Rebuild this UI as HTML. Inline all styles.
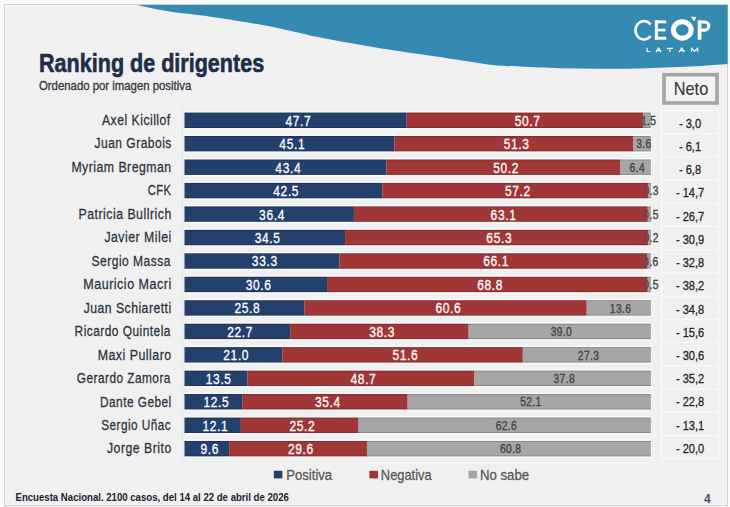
<!DOCTYPE html><html><head><meta charset="utf-8"><style>html,body{margin:0;padding:0;width:730px;height:507px;overflow:hidden;background:#fff}svg{display:block}</style></head><body><svg width="730" height="507" viewBox="0 0 730 507" font-family='"Liberation Sans", sans-serif'><rect x="0" y="0" width="730" height="507" fill="#fafafa"/>
<rect x="4.5" y="4.5" width="723" height="501" fill="#f0f0f0"/>
<rect x="5.5" y="5.5" width="721" height="499" fill="none" stroke="#f8f8f8" stroke-width="1"/>
<path d="M136.5,5 C142.25,6.13 160.42,10.10 171,11.8 C181.58,13.50 188.50,13.63 200,15.2 C211.50,16.77 226.67,18.98 240,21.2 C253.33,23.42 266.67,25.77 280,28.5 C293.33,31.23 306.67,34.90 320,37.6 C333.33,40.30 346.67,42.42 360,44.7 C373.33,46.98 386.67,49.23 400,51.3 C413.33,53.37 425.00,54.87 440,57.1 C455.00,59.33 476.67,63.12 490,64.7 C503.33,66.28 508.33,66.00 520,66.6 C531.67,67.20 546.67,67.95 560,68.3 C573.33,68.65 586.67,68.67 600,68.7 C613.33,68.73 625.00,68.85 640,68.5 C655.00,68.15 675.42,67.35 690,66.6 C704.58,65.85 721.25,64.43 727.5,64 L727.5,5 Z" fill="#348ab0"/>
<rect x="4.5" y="4.5" width="723" height="501" fill="none" stroke="rgba(0,0,0,0.15)" stroke-width="1"/>
<text transform="translate(39.04,72.00) scale(0.8625,1)" font-size="25" font-weight="bold" fill="#1f2d4a" stroke="#1f2d4a" stroke-width="0.6" >Ranking de dirigentes</text>
<text transform="translate(39.00,89.70) scale(0.9098,1)" font-size="12.5" font-weight="normal" fill="#333840" stroke="#333840" stroke-width="0.3" >Ordenado por imagen positiva</text>
<line x1="182.5" y1="108.52" x2="182.5" y2="460.42" stroke="#e3e3e3" stroke-width="1"/>
<line x1="180.3" y1="108.52" x2="182.5" y2="108.52" stroke="#e3e3e3" stroke-width="1"/>
<line x1="180.3" y1="131.98" x2="182.5" y2="131.98" stroke="#e3e3e3" stroke-width="1"/>
<line x1="180.3" y1="155.44" x2="182.5" y2="155.44" stroke="#e3e3e3" stroke-width="1"/>
<line x1="180.3" y1="178.90" x2="182.5" y2="178.90" stroke="#e3e3e3" stroke-width="1"/>
<line x1="180.3" y1="202.36" x2="182.5" y2="202.36" stroke="#e3e3e3" stroke-width="1"/>
<line x1="180.3" y1="225.82" x2="182.5" y2="225.82" stroke="#e3e3e3" stroke-width="1"/>
<line x1="180.3" y1="249.28" x2="182.5" y2="249.28" stroke="#e3e3e3" stroke-width="1"/>
<line x1="180.3" y1="272.74" x2="182.5" y2="272.74" stroke="#e3e3e3" stroke-width="1"/>
<line x1="180.3" y1="296.20" x2="182.5" y2="296.20" stroke="#e3e3e3" stroke-width="1"/>
<line x1="180.3" y1="319.66" x2="182.5" y2="319.66" stroke="#e3e3e3" stroke-width="1"/>
<line x1="180.3" y1="343.12" x2="182.5" y2="343.12" stroke="#e3e3e3" stroke-width="1"/>
<line x1="180.3" y1="366.58" x2="182.5" y2="366.58" stroke="#e3e3e3" stroke-width="1"/>
<line x1="180.3" y1="390.04" x2="182.5" y2="390.04" stroke="#e3e3e3" stroke-width="1"/>
<line x1="180.3" y1="413.50" x2="182.5" y2="413.50" stroke="#e3e3e3" stroke-width="1"/>
<line x1="180.3" y1="436.96" x2="182.5" y2="436.96" stroke="#e3e3e3" stroke-width="1"/>
<line x1="180.3" y1="460.42" x2="182.5" y2="460.42" stroke="#e3e3e3" stroke-width="1"/>
<text transform="translate(102.00,125.00) scale(0.8144,1)" font-size="15" font-weight="normal" fill="#2e3440" stroke="#2e3440" stroke-width="0.3"  letter-spacing="0.6">Axel Kicillof</text>
<rect x="642.91" y="112.50" width="7.99" height="15.5" fill="#a6a6a6"/>
<text transform="translate(648.70,124.90) scale(0.7700,1)" text-anchor="middle" font-size="13.3" fill="#4a4a4a" stroke="#4a4a4a" stroke-width="0.3"  letter-spacing="0.5">1.5</text>
<rect x="184.50" y="112.50" width="222.22" height="15.5" fill="#24406c"/>
<rect x="406.72" y="112.50" width="236.19" height="15.5" fill="#a03636"/>
<rect x="183.50" y="110.90" width="468.40" height="1.6" fill="#ffffff" opacity="0.6"/>
<rect x="183.50" y="128.00" width="468.40" height="1.6" fill="#ffffff" opacity="0.6"/>
<rect x="184.50" y="112.50" width="466.40" height="1" fill="#000" opacity="0.18"/>
<rect x="184.50" y="127.00" width="466.40" height="1" fill="#000" opacity="0.18"/>
<text transform="translate(648.70,124.90) scale(0.7700,1)" text-anchor="middle" font-size="13.3" fill="#4a4a4a" stroke="#4a4a4a" stroke-width="0.3" opacity="0.4" letter-spacing="0.5">1.5</text>
<text transform="translate(298.42,125.70) scale(0.7750,1)" text-anchor="middle" font-size="15.5" fill="#fff" stroke="#fff" stroke-width="0.3"  letter-spacing="0.8">47.7</text>
<text transform="translate(527.63,125.70) scale(0.7750,1)" text-anchor="middle" font-size="15.5" fill="#fff" stroke="#fff" stroke-width="0.3"  letter-spacing="0.8">50.7</text>
<text transform="translate(94.50,148.46) scale(0.8026,1)" font-size="15" font-weight="normal" fill="#2e3440" stroke="#2e3440" stroke-width="0.3"  letter-spacing="0.6">Juan Grabois</text>
<rect x="633.15" y="135.96" width="17.75" height="15.5" fill="#a6a6a6"/>
<text transform="translate(643.82,148.36) scale(0.7700,1)" text-anchor="middle" font-size="13.3" fill="#4a4a4a" stroke="#4a4a4a" stroke-width="0.3"  letter-spacing="0.5">3.6</text>
<rect x="184.50" y="135.96" width="209.90" height="15.5" fill="#24406c"/>
<rect x="394.40" y="135.96" width="238.75" height="15.5" fill="#a03636"/>
<rect x="183.50" y="134.36" width="468.40" height="1.6" fill="#ffffff" opacity="0.6"/>
<rect x="183.50" y="151.46" width="468.40" height="1.6" fill="#ffffff" opacity="0.6"/>
<rect x="184.50" y="135.96" width="466.40" height="1" fill="#000" opacity="0.18"/>
<rect x="184.50" y="150.46" width="466.40" height="1" fill="#000" opacity="0.18"/>
<text transform="translate(643.82,148.36) scale(0.7700,1)" text-anchor="middle" font-size="13.3" fill="#4a4a4a" stroke="#4a4a4a" stroke-width="0.3" opacity="0.4" letter-spacing="0.5">3.6</text>
<text transform="translate(292.26,149.16) scale(0.7750,1)" text-anchor="middle" font-size="15.5" fill="#fff" stroke="#fff" stroke-width="0.3"  letter-spacing="0.8">45.1</text>
<text transform="translate(516.58,149.16) scale(0.7750,1)" text-anchor="middle" font-size="15.5" fill="#fff" stroke="#fff" stroke-width="0.3"  letter-spacing="0.8">51.3</text>
<text transform="translate(71.38,171.92) scale(0.8189,1)" font-size="15" font-weight="normal" fill="#2e3440" stroke="#2e3440" stroke-width="0.3"  letter-spacing="0.6">Myriam Bregman</text>
<rect x="620.11" y="159.42" width="30.79" height="15.5" fill="#a6a6a6"/>
<text transform="translate(637.30,171.82) scale(0.7700,1)" text-anchor="middle" font-size="13.3" fill="#4a4a4a" stroke="#4a4a4a" stroke-width="0.3"  letter-spacing="0.5">6.4</text>
<rect x="184.50" y="159.42" width="201.98" height="15.5" fill="#24406c"/>
<rect x="386.48" y="159.42" width="233.63" height="15.5" fill="#a03636"/>
<rect x="183.50" y="157.82" width="468.40" height="1.6" fill="#ffffff" opacity="0.6"/>
<rect x="183.50" y="174.92" width="468.40" height="1.6" fill="#ffffff" opacity="0.6"/>
<rect x="184.50" y="159.42" width="466.40" height="1" fill="#000" opacity="0.18"/>
<rect x="184.50" y="173.92" width="466.40" height="1" fill="#000" opacity="0.18"/>
<text transform="translate(637.30,171.82) scale(0.7700,1)" text-anchor="middle" font-size="13.3" fill="#4a4a4a" stroke="#4a4a4a" stroke-width="0.3" opacity="0.4" letter-spacing="0.5">6.4</text>
<text transform="translate(288.30,172.62) scale(0.7750,1)" text-anchor="middle" font-size="15.5" fill="#fff" stroke="#fff" stroke-width="0.3"  letter-spacing="0.8">43.4</text>
<text transform="translate(506.11,172.62) scale(0.7750,1)" text-anchor="middle" font-size="15.5" fill="#fff" stroke="#fff" stroke-width="0.3"  letter-spacing="0.8">50.2</text>
<text transform="translate(147.80,195.38) scale(0.7437,1)" font-size="15" font-weight="normal" fill="#2e3440" stroke="#2e3440" stroke-width="0.3"  letter-spacing="0.6">CFK</text>
<rect x="647.90" y="182.88" width="3.00" height="15.5" fill="#a6a6a6"/>
<text transform="translate(651.19,195.28) scale(0.7700,1)" text-anchor="middle" font-size="13.3" fill="#4a4a4a" stroke="#4a4a4a" stroke-width="0.3"  letter-spacing="0.5">0.3</text>
<rect x="184.50" y="182.88" width="197.79" height="15.5" fill="#24406c"/>
<rect x="382.29" y="182.88" width="265.61" height="15.5" fill="#a03636"/>
<rect x="183.50" y="181.28" width="468.40" height="1.6" fill="#ffffff" opacity="0.6"/>
<rect x="183.50" y="198.38" width="468.40" height="1.6" fill="#ffffff" opacity="0.6"/>
<rect x="184.50" y="182.88" width="466.40" height="1" fill="#000" opacity="0.18"/>
<rect x="184.50" y="197.38" width="466.40" height="1" fill="#000" opacity="0.18"/>
<text transform="translate(651.19,195.28) scale(0.7700,1)" text-anchor="middle" font-size="13.3" fill="#4a4a4a" stroke="#4a4a4a" stroke-width="0.3" opacity="0.4" letter-spacing="0.5">0.3</text>
<text transform="translate(286.21,196.08) scale(0.7750,1)" text-anchor="middle" font-size="15.5" fill="#fff" stroke="#fff" stroke-width="0.3"  letter-spacing="0.8">42.5</text>
<text transform="translate(517.91,196.08) scale(0.7750,1)" text-anchor="middle" font-size="15.5" fill="#fff" stroke="#fff" stroke-width="0.3"  letter-spacing="0.8">57.2</text>
<text transform="translate(78.48,218.84) scale(0.8215,1)" font-size="15" font-weight="normal" fill="#2e3440" stroke="#2e3440" stroke-width="0.3"  letter-spacing="0.6">Patricia Bullrich</text>
<rect x="647.57" y="206.34" width="3.33" height="15.5" fill="#a6a6a6"/>
<text transform="translate(651.03,218.74) scale(0.7700,1)" text-anchor="middle" font-size="13.3" fill="#4a4a4a" stroke="#4a4a4a" stroke-width="0.3"  letter-spacing="0.5">0.5</text>
<rect x="184.50" y="206.34" width="169.41" height="15.5" fill="#24406c"/>
<rect x="353.91" y="206.34" width="293.67" height="15.5" fill="#a03636"/>
<rect x="183.50" y="204.74" width="468.40" height="1.6" fill="#ffffff" opacity="0.6"/>
<rect x="183.50" y="221.84" width="468.40" height="1.6" fill="#ffffff" opacity="0.6"/>
<rect x="184.50" y="206.34" width="466.40" height="1" fill="#000" opacity="0.18"/>
<rect x="184.50" y="220.84" width="466.40" height="1" fill="#000" opacity="0.18"/>
<text transform="translate(651.03,218.74) scale(0.7700,1)" text-anchor="middle" font-size="13.3" fill="#4a4a4a" stroke="#4a4a4a" stroke-width="0.3" opacity="0.4" letter-spacing="0.5">0.5</text>
<text transform="translate(272.01,219.54) scale(0.7750,1)" text-anchor="middle" font-size="15.5" fill="#fff" stroke="#fff" stroke-width="0.3"  letter-spacing="0.8">36.4</text>
<text transform="translate(503.55,219.54) scale(0.7750,1)" text-anchor="middle" font-size="15.5" fill="#fff" stroke="#fff" stroke-width="0.3"  letter-spacing="0.8">63.1</text>
<text transform="translate(104.40,242.30) scale(0.8194,1)" font-size="15" font-weight="normal" fill="#2e3440" stroke="#2e3440" stroke-width="0.3"  letter-spacing="0.6">Javier Milei</text>
<rect x="647.90" y="229.80" width="3.00" height="15.5" fill="#a6a6a6"/>
<text transform="translate(651.19,242.20) scale(0.7700,1)" text-anchor="middle" font-size="13.3" fill="#4a4a4a" stroke="#4a4a4a" stroke-width="0.3"  letter-spacing="0.5">0.2</text>
<rect x="184.50" y="229.80" width="160.56" height="15.5" fill="#24406c"/>
<rect x="345.06" y="229.80" width="302.84" height="15.5" fill="#a03636"/>
<rect x="183.50" y="228.20" width="468.40" height="1.6" fill="#ffffff" opacity="0.6"/>
<rect x="183.50" y="245.30" width="468.40" height="1.6" fill="#ffffff" opacity="0.6"/>
<rect x="184.50" y="229.80" width="466.40" height="1" fill="#000" opacity="0.18"/>
<rect x="184.50" y="244.30" width="466.40" height="1" fill="#000" opacity="0.18"/>
<text transform="translate(651.19,242.20) scale(0.7700,1)" text-anchor="middle" font-size="13.3" fill="#4a4a4a" stroke="#4a4a4a" stroke-width="0.3" opacity="0.4" letter-spacing="0.5">0.2</text>
<text transform="translate(267.59,243.00) scale(0.7750,1)" text-anchor="middle" font-size="15.5" fill="#fff" stroke="#fff" stroke-width="0.3"  letter-spacing="0.8">34.5</text>
<text transform="translate(499.29,243.00) scale(0.7750,1)" text-anchor="middle" font-size="15.5" fill="#fff" stroke="#fff" stroke-width="0.3"  letter-spacing="0.8">65.3</text>
<text transform="translate(91.60,265.76) scale(0.8023,1)" font-size="15" font-weight="normal" fill="#2e3440" stroke="#2e3440" stroke-width="0.3"  letter-spacing="0.6">Sergio Massa</text>
<rect x="647.11" y="253.26" width="3.79" height="15.5" fill="#a6a6a6"/>
<text transform="translate(650.80,265.66) scale(0.7700,1)" text-anchor="middle" font-size="13.3" fill="#4a4a4a" stroke="#4a4a4a" stroke-width="0.3"  letter-spacing="0.5">0.6</text>
<rect x="184.50" y="253.26" width="154.98" height="15.5" fill="#24406c"/>
<rect x="339.48" y="253.26" width="307.63" height="15.5" fill="#a03636"/>
<rect x="183.50" y="251.66" width="468.40" height="1.6" fill="#ffffff" opacity="0.6"/>
<rect x="183.50" y="268.76" width="468.40" height="1.6" fill="#ffffff" opacity="0.6"/>
<rect x="184.50" y="253.26" width="466.40" height="1" fill="#000" opacity="0.18"/>
<rect x="184.50" y="267.76" width="466.40" height="1" fill="#000" opacity="0.18"/>
<text transform="translate(650.80,265.66) scale(0.7700,1)" text-anchor="middle" font-size="13.3" fill="#4a4a4a" stroke="#4a4a4a" stroke-width="0.3" opacity="0.4" letter-spacing="0.5">0.6</text>
<text transform="translate(264.80,266.46) scale(0.7750,1)" text-anchor="middle" font-size="15.5" fill="#fff" stroke="#fff" stroke-width="0.3"  letter-spacing="0.8">33.3</text>
<text transform="translate(496.10,266.46) scale(0.7750,1)" text-anchor="middle" font-size="15.5" fill="#fff" stroke="#fff" stroke-width="0.3"  letter-spacing="0.8">66.1</text>
<text transform="translate(83.26,289.22) scale(0.8357,1)" font-size="15" font-weight="normal" fill="#2e3440" stroke="#2e3440" stroke-width="0.3"  letter-spacing="0.6">Mauricio Macri</text>
<rect x="647.57" y="276.72" width="3.33" height="15.5" fill="#a6a6a6"/>
<text transform="translate(651.03,289.12) scale(0.7700,1)" text-anchor="middle" font-size="13.3" fill="#4a4a4a" stroke="#4a4a4a" stroke-width="0.3"  letter-spacing="0.5">0.5</text>
<rect x="184.50" y="276.72" width="142.55" height="15.5" fill="#24406c"/>
<rect x="327.05" y="276.72" width="320.52" height="15.5" fill="#a03636"/>
<rect x="183.50" y="275.12" width="468.40" height="1.6" fill="#ffffff" opacity="0.6"/>
<rect x="183.50" y="292.22" width="468.40" height="1.6" fill="#ffffff" opacity="0.6"/>
<rect x="184.50" y="276.72" width="466.40" height="1" fill="#000" opacity="0.18"/>
<rect x="184.50" y="291.22" width="466.40" height="1" fill="#000" opacity="0.18"/>
<text transform="translate(651.03,289.12) scale(0.7700,1)" text-anchor="middle" font-size="13.3" fill="#4a4a4a" stroke="#4a4a4a" stroke-width="0.3" opacity="0.4" letter-spacing="0.5">0.5</text>
<text transform="translate(258.59,289.92) scale(0.7750,1)" text-anchor="middle" font-size="15.5" fill="#fff" stroke="#fff" stroke-width="0.3"  letter-spacing="0.8">30.6</text>
<text transform="translate(490.12,289.92) scale(0.7750,1)" text-anchor="middle" font-size="15.5" fill="#fff" stroke="#fff" stroke-width="0.3"  letter-spacing="0.8">68.8</text>
<text transform="translate(83.70,312.68) scale(0.8137,1)" font-size="15" font-weight="normal" fill="#2e3440" stroke="#2e3440" stroke-width="0.3"  letter-spacing="0.6">Juan Schiaretti</text>
<rect x="586.61" y="300.18" width="64.29" height="15.5" fill="#a6a6a6"/>
<text transform="translate(620.55,312.58) scale(0.7700,1)" text-anchor="middle" font-size="13.3" fill="#4a4a4a" stroke="#4a4a4a" stroke-width="0.3"  letter-spacing="0.5">13.6</text>
<rect x="184.50" y="300.18" width="120.07" height="15.5" fill="#24406c"/>
<rect x="304.57" y="300.18" width="282.03" height="15.5" fill="#a03636"/>
<rect x="183.50" y="298.58" width="468.40" height="1.6" fill="#ffffff" opacity="0.6"/>
<rect x="183.50" y="315.68" width="468.40" height="1.6" fill="#ffffff" opacity="0.6"/>
<rect x="184.50" y="300.18" width="466.40" height="1" fill="#000" opacity="0.18"/>
<rect x="184.50" y="314.68" width="466.40" height="1" fill="#000" opacity="0.18"/>
<text transform="translate(620.55,312.58) scale(0.7700,1)" text-anchor="middle" font-size="13.3" fill="#4a4a4a" stroke="#4a4a4a" stroke-width="0.3" opacity="0.4" letter-spacing="0.5">13.6</text>
<text transform="translate(247.35,313.38) scale(0.7750,1)" text-anchor="middle" font-size="15.5" fill="#fff" stroke="#fff" stroke-width="0.3"  letter-spacing="0.8">25.8</text>
<text transform="translate(448.40,313.38) scale(0.7750,1)" text-anchor="middle" font-size="15.5" fill="#fff" stroke="#fff" stroke-width="0.3"  letter-spacing="0.8">60.6</text>
<text transform="translate(74.61,336.14) scale(0.7941,1)" font-size="15" font-weight="normal" fill="#2e3440" stroke="#2e3440" stroke-width="0.3"  letter-spacing="0.6">Ricardo Quintela</text>
<rect x="468.39" y="323.64" width="182.51" height="15.5" fill="#a6a6a6"/>
<text transform="translate(561.44,336.04) scale(0.7700,1)" text-anchor="middle" font-size="13.3" fill="#4a4a4a" stroke="#4a4a4a" stroke-width="0.3"  letter-spacing="0.5">39.0</text>
<rect x="184.50" y="323.64" width="105.65" height="15.5" fill="#24406c"/>
<rect x="290.15" y="323.64" width="178.25" height="15.5" fill="#a03636"/>
<rect x="183.50" y="322.04" width="468.40" height="1.6" fill="#ffffff" opacity="0.6"/>
<rect x="183.50" y="339.14" width="468.40" height="1.6" fill="#ffffff" opacity="0.6"/>
<rect x="184.50" y="323.64" width="466.40" height="1" fill="#000" opacity="0.18"/>
<rect x="184.50" y="338.14" width="466.40" height="1" fill="#000" opacity="0.18"/>
<text transform="translate(561.44,336.04) scale(0.7700,1)" text-anchor="middle" font-size="13.3" fill="#4a4a4a" stroke="#4a4a4a" stroke-width="0.3" opacity="0.4" letter-spacing="0.5">39.0</text>
<text transform="translate(240.13,336.84) scale(0.7750,1)" text-anchor="middle" font-size="15.5" fill="#fff" stroke="#fff" stroke-width="0.3"  letter-spacing="0.8">22.7</text>
<text transform="translate(382.08,336.84) scale(0.7750,1)" text-anchor="middle" font-size="15.5" fill="#fff" stroke="#fff" stroke-width="0.3"  letter-spacing="0.8">38.3</text>
<text transform="translate(97.67,359.60) scale(0.8259,1)" font-size="15" font-weight="normal" fill="#2e3440" stroke="#2e3440" stroke-width="0.3"  letter-spacing="0.6">Maxi Pullaro</text>
<rect x="522.72" y="347.10" width="128.18" height="15.5" fill="#a6a6a6"/>
<text transform="translate(588.60,359.50) scale(0.7700,1)" text-anchor="middle" font-size="13.3" fill="#4a4a4a" stroke="#4a4a4a" stroke-width="0.3"  letter-spacing="0.5">27.3</text>
<rect x="184.50" y="347.10" width="97.83" height="15.5" fill="#24406c"/>
<rect x="282.33" y="347.10" width="240.39" height="15.5" fill="#a03636"/>
<rect x="183.50" y="345.50" width="468.40" height="1.6" fill="#ffffff" opacity="0.6"/>
<rect x="183.50" y="362.60" width="468.40" height="1.6" fill="#ffffff" opacity="0.6"/>
<rect x="184.50" y="347.10" width="466.40" height="1" fill="#000" opacity="0.18"/>
<rect x="184.50" y="361.60" width="466.40" height="1" fill="#000" opacity="0.18"/>
<text transform="translate(588.60,359.50) scale(0.7700,1)" text-anchor="middle" font-size="13.3" fill="#4a4a4a" stroke="#4a4a4a" stroke-width="0.3" opacity="0.4" letter-spacing="0.5">27.3</text>
<text transform="translate(236.23,360.30) scale(0.7750,1)" text-anchor="middle" font-size="15.5" fill="#fff" stroke="#fff" stroke-width="0.3"  letter-spacing="0.8">21.0</text>
<text transform="translate(405.34,360.30) scale(0.7750,1)" text-anchor="middle" font-size="15.5" fill="#fff" stroke="#fff" stroke-width="0.3"  letter-spacing="0.8">51.6</text>
<text transform="translate(76.80,383.06) scale(0.7894,1)" font-size="15" font-weight="normal" fill="#2e3440" stroke="#2e3440" stroke-width="0.3"  letter-spacing="0.6">Gerardo Zamora</text>
<rect x="473.98" y="370.56" width="176.92" height="15.5" fill="#a6a6a6"/>
<text transform="translate(564.23,382.96) scale(0.7700,1)" text-anchor="middle" font-size="13.3" fill="#4a4a4a" stroke="#4a4a4a" stroke-width="0.3"  letter-spacing="0.5">37.8</text>
<rect x="184.50" y="370.56" width="62.83" height="15.5" fill="#24406c"/>
<rect x="247.33" y="370.56" width="226.65" height="15.5" fill="#a03636"/>
<rect x="183.50" y="368.96" width="468.40" height="1.6" fill="#ffffff" opacity="0.6"/>
<rect x="183.50" y="386.06" width="468.40" height="1.6" fill="#ffffff" opacity="0.6"/>
<rect x="184.50" y="370.56" width="466.40" height="1" fill="#000" opacity="0.18"/>
<rect x="184.50" y="385.06" width="466.40" height="1" fill="#000" opacity="0.18"/>
<text transform="translate(564.23,382.96) scale(0.7700,1)" text-anchor="middle" font-size="13.3" fill="#4a4a4a" stroke="#4a4a4a" stroke-width="0.3" opacity="0.4" letter-spacing="0.5">37.8</text>
<text transform="translate(218.72,383.76) scale(0.7750,1)" text-anchor="middle" font-size="15.5" fill="#fff" stroke="#fff" stroke-width="0.3"  letter-spacing="0.8">13.5</text>
<text transform="translate(363.46,383.76) scale(0.7750,1)" text-anchor="middle" font-size="15.5" fill="#fff" stroke="#fff" stroke-width="0.3"  letter-spacing="0.8">48.7</text>
<text transform="translate(100.01,406.52) scale(0.7898,1)" font-size="15" font-weight="normal" fill="#2e3440" stroke="#2e3440" stroke-width="0.3"  letter-spacing="0.6">Dante Gebel</text>
<rect x="407.43" y="394.02" width="243.47" height="15.5" fill="#a6a6a6"/>
<text transform="translate(530.96,406.42) scale(0.7700,1)" text-anchor="middle" font-size="13.3" fill="#4a4a4a" stroke="#4a4a4a" stroke-width="0.3"  letter-spacing="0.5">52.1</text>
<rect x="184.50" y="394.02" width="58.17" height="15.5" fill="#24406c"/>
<rect x="242.68" y="394.02" width="164.75" height="15.5" fill="#a03636"/>
<rect x="183.50" y="392.42" width="468.40" height="1.6" fill="#ffffff" opacity="0.6"/>
<rect x="183.50" y="409.52" width="468.40" height="1.6" fill="#ffffff" opacity="0.6"/>
<rect x="184.50" y="394.02" width="466.40" height="1" fill="#000" opacity="0.18"/>
<rect x="184.50" y="408.52" width="466.40" height="1" fill="#000" opacity="0.18"/>
<text transform="translate(530.96,406.42) scale(0.7700,1)" text-anchor="middle" font-size="13.3" fill="#4a4a4a" stroke="#4a4a4a" stroke-width="0.3" opacity="0.4" letter-spacing="0.5">52.1</text>
<text transform="translate(216.40,407.22) scale(0.7750,1)" text-anchor="middle" font-size="15.5" fill="#fff" stroke="#fff" stroke-width="0.3"  letter-spacing="0.8">12.5</text>
<text transform="translate(327.86,407.22) scale(0.7750,1)" text-anchor="middle" font-size="15.5" fill="#fff" stroke="#fff" stroke-width="0.3"  letter-spacing="0.8">35.4</text>
<text transform="translate(101.20,429.98) scale(0.7839,1)" font-size="15" font-weight="normal" fill="#2e3440" stroke="#2e3440" stroke-width="0.3"  letter-spacing="0.6">Sergio Uñac</text>
<rect x="358.27" y="417.48" width="292.63" height="15.5" fill="#a6a6a6"/>
<text transform="translate(506.38,429.88) scale(0.7700,1)" text-anchor="middle" font-size="13.3" fill="#4a4a4a" stroke="#4a4a4a" stroke-width="0.3"  letter-spacing="0.5">62.6</text>
<rect x="184.50" y="417.48" width="56.37" height="15.5" fill="#24406c"/>
<rect x="240.87" y="417.48" width="117.40" height="15.5" fill="#a03636"/>
<rect x="183.50" y="415.88" width="468.40" height="1.6" fill="#ffffff" opacity="0.6"/>
<rect x="183.50" y="432.98" width="468.40" height="1.6" fill="#ffffff" opacity="0.6"/>
<rect x="184.50" y="417.48" width="466.40" height="1" fill="#000" opacity="0.18"/>
<rect x="184.50" y="431.98" width="466.40" height="1" fill="#000" opacity="0.18"/>
<text transform="translate(506.38,429.88) scale(0.7700,1)" text-anchor="middle" font-size="13.3" fill="#4a4a4a" stroke="#4a4a4a" stroke-width="0.3" opacity="0.4" letter-spacing="0.5">62.6</text>
<text transform="translate(215.49,430.68) scale(0.7750,1)" text-anchor="middle" font-size="15.5" fill="#fff" stroke="#fff" stroke-width="0.3"  letter-spacing="0.8">12.1</text>
<text transform="translate(302.38,430.68) scale(0.7750,1)" text-anchor="middle" font-size="15.5" fill="#fff" stroke="#fff" stroke-width="0.3"  letter-spacing="0.8">25.2</text>
<text transform="translate(107.00,453.44) scale(0.8185,1)" font-size="15" font-weight="normal" fill="#2e3440" stroke="#2e3440" stroke-width="0.3"  letter-spacing="0.6">Jorge Brito</text>
<rect x="366.94" y="440.94" width="283.96" height="15.5" fill="#a6a6a6"/>
<text transform="translate(510.71,453.34) scale(0.7700,1)" text-anchor="middle" font-size="13.3" fill="#4a4a4a" stroke="#4a4a4a" stroke-width="0.3"  letter-spacing="0.5">60.8</text>
<rect x="184.50" y="440.94" width="44.68" height="15.5" fill="#24406c"/>
<rect x="229.18" y="440.94" width="137.76" height="15.5" fill="#a03636"/>
<rect x="183.50" y="439.34" width="468.40" height="1.6" fill="#ffffff" opacity="0.6"/>
<rect x="183.50" y="456.44" width="468.40" height="1.6" fill="#ffffff" opacity="0.6"/>
<rect x="184.50" y="440.94" width="466.40" height="1" fill="#000" opacity="0.18"/>
<rect x="184.50" y="455.44" width="466.40" height="1" fill="#000" opacity="0.18"/>
<text transform="translate(510.71,453.34) scale(0.7700,1)" text-anchor="middle" font-size="13.3" fill="#4a4a4a" stroke="#4a4a4a" stroke-width="0.3" opacity="0.4" letter-spacing="0.5">60.8</text>
<text transform="translate(209.65,454.14) scale(0.7750,1)" text-anchor="middle" font-size="15.5" fill="#fff" stroke="#fff" stroke-width="0.3"  letter-spacing="0.8">9.6</text>
<text transform="translate(300.87,454.14) scale(0.7750,1)" text-anchor="middle" font-size="15.5" fill="#fff" stroke="#fff" stroke-width="0.3"  letter-spacing="0.8">29.6</text>
<line x1="661" y1="110.30" x2="719" y2="110.30" stroke="#fbfbfb" stroke-width="1"/>
<line x1="661" y1="133.53" x2="719" y2="133.53" stroke="#fbfbfb" stroke-width="1"/>
<line x1="661" y1="156.76" x2="719" y2="156.76" stroke="#fbfbfb" stroke-width="1"/>
<line x1="661" y1="179.99" x2="719" y2="179.99" stroke="#fbfbfb" stroke-width="1"/>
<line x1="661" y1="203.22" x2="719" y2="203.22" stroke="#fbfbfb" stroke-width="1"/>
<line x1="661" y1="226.45" x2="719" y2="226.45" stroke="#fbfbfb" stroke-width="1"/>
<line x1="661" y1="249.68" x2="719" y2="249.68" stroke="#fbfbfb" stroke-width="1"/>
<line x1="661" y1="272.91" x2="719" y2="272.91" stroke="#fbfbfb" stroke-width="1"/>
<line x1="661" y1="296.14" x2="719" y2="296.14" stroke="#fbfbfb" stroke-width="1"/>
<line x1="661" y1="319.37" x2="719" y2="319.37" stroke="#fbfbfb" stroke-width="1"/>
<line x1="661" y1="342.60" x2="719" y2="342.60" stroke="#fbfbfb" stroke-width="1"/>
<line x1="661" y1="365.83" x2="719" y2="365.83" stroke="#fbfbfb" stroke-width="1"/>
<line x1="661" y1="389.06" x2="719" y2="389.06" stroke="#fbfbfb" stroke-width="1"/>
<line x1="661" y1="412.29" x2="719" y2="412.29" stroke="#fbfbfb" stroke-width="1"/>
<line x1="661" y1="435.52" x2="719" y2="435.52" stroke="#fbfbfb" stroke-width="1"/>
<line x1="661" y1="458.75" x2="719" y2="458.75" stroke="#fbfbfb" stroke-width="1"/>
<line x1="661.5" y1="110.3" x2="661.5" y2="458.75" stroke="#fbfbfb" stroke-width="1"/>
<line x1="718.5" y1="110.3" x2="718.5" y2="458.75" stroke="#fbfbfb" stroke-width="1"/>
<text transform="translate(690.00,127.70) scale(0.8500,1)" text-anchor="middle" font-size="13" fill="#262626" stroke="#262626" stroke-width="0.3" >- 3,0</text>
<text transform="translate(690.00,150.93) scale(0.8500,1)" text-anchor="middle" font-size="13" fill="#262626" stroke="#262626" stroke-width="0.3" >- 6,1</text>
<text transform="translate(690.00,174.16) scale(0.8500,1)" text-anchor="middle" font-size="13" fill="#262626" stroke="#262626" stroke-width="0.3" >- 6,8</text>
<text transform="translate(690.00,197.39) scale(0.8500,1)" text-anchor="middle" font-size="13" fill="#262626" stroke="#262626" stroke-width="0.3" >- 14,7</text>
<text transform="translate(690.00,220.62) scale(0.8500,1)" text-anchor="middle" font-size="13" fill="#262626" stroke="#262626" stroke-width="0.3" >- 26,7</text>
<text transform="translate(690.00,243.85) scale(0.8500,1)" text-anchor="middle" font-size="13" fill="#262626" stroke="#262626" stroke-width="0.3" >- 30,9</text>
<text transform="translate(690.00,267.08) scale(0.8500,1)" text-anchor="middle" font-size="13" fill="#262626" stroke="#262626" stroke-width="0.3" >- 32,8</text>
<text transform="translate(690.00,290.31) scale(0.8500,1)" text-anchor="middle" font-size="13" fill="#262626" stroke="#262626" stroke-width="0.3" >- 38,2</text>
<text transform="translate(690.00,313.54) scale(0.8500,1)" text-anchor="middle" font-size="13" fill="#262626" stroke="#262626" stroke-width="0.3" >- 34,8</text>
<text transform="translate(690.00,336.77) scale(0.8500,1)" text-anchor="middle" font-size="13" fill="#262626" stroke="#262626" stroke-width="0.3" >- 15,6</text>
<text transform="translate(690.00,360.00) scale(0.8500,1)" text-anchor="middle" font-size="13" fill="#262626" stroke="#262626" stroke-width="0.3" >- 30,6</text>
<text transform="translate(690.00,383.23) scale(0.8500,1)" text-anchor="middle" font-size="13" fill="#262626" stroke="#262626" stroke-width="0.3" >- 35,2</text>
<text transform="translate(690.00,406.46) scale(0.8500,1)" text-anchor="middle" font-size="13" fill="#262626" stroke="#262626" stroke-width="0.3" >- 22,8</text>
<text transform="translate(690.00,429.69) scale(0.8500,1)" text-anchor="middle" font-size="13" fill="#262626" stroke="#262626" stroke-width="0.3" >- 13,1</text>
<text transform="translate(690.00,452.92) scale(0.8500,1)" text-anchor="middle" font-size="13" fill="#262626" stroke="#262626" stroke-width="0.3" >- 20,0</text>
<rect x="664" y="74.7" width="53" height="28.3" fill="#f3f3f3" stroke="#a6a6a6" stroke-width="3.6"/>
<text transform="translate(673.79,94.70) scale(0.9051,1)" font-size="18" font-weight="normal" fill="#3a3a3a" stroke="#3a3a3a" stroke-width="0.15" >Neto</text>
<rect x="273.8" y="470.8" width="8.6" height="7.6" fill="#24406c"/>
<text transform="translate(286.22,479.50) scale(0.8758,1)" font-size="15" font-weight="normal" fill="#595959" stroke="#595959" stroke-width="0.3" >Positiva</text>
<rect x="369.4" y="470.8" width="8.6" height="7.6" fill="#a03636"/>
<text transform="translate(380.84,479.50) scale(0.8580,1)" font-size="15" font-weight="normal" fill="#595959" stroke="#595959" stroke-width="0.3" >Negativa</text>
<rect x="468.5" y="470.8" width="8.6" height="7.6" fill="#a6a6a6"/>
<text transform="translate(479.92,479.50) scale(0.8821,1)" font-size="15" font-weight="normal" fill="#595959" stroke="#595959" stroke-width="0.3" >No sabe</text>
<text transform="translate(15.50,500.70) scale(0.9068,1)" font-size="10.6" font-weight="bold" fill="#1c2230"  >Encuesta Nacional. 2100 casos, del 14 al 22 de abril de 2026</text>
<text x="704" y="502.5" font-size="12" font-weight="bold" fill="#44546a">4</text>
<g fill="none" stroke="#fff">
<path d="M650.6,24.6 A8.5,9.2 0 1 0 650.6,36.0" stroke-width="2.6"/>
<ellipse cx="682.3" cy="29.9" rx="8.85" ry="8.25" stroke-width="5.0"/>
<path d="M699.5,22 L704.7,22 A4.05,4.05 0 0 1 704.7,30.1 L699.5,30.1" stroke-width="3.1"/>
<g stroke-width="1.1" stroke-linejoin="miter">
<path d="M647.1,47.8 L647.1,51.5 L650.6,51.5"/>
<path d="M655.8,52.1 L658.5,48 L661.2,52.1 M656.9,50.6 L660.1,50.6"/>
<path d="M666.9,48.4 L672.8,48.4 M669.85,48.4 L669.85,52.1"/>
<path d="M679.1,52.1 L681.8,48 L684.5,52.1 M680.2,50.6 L683.4,50.6"/>
<path d="M691.5,52.1 L691.5,48.2 L694.6,51.2 L697.7,48.2 L697.7,52.1"/>
</g>
</g>
<g fill="#fff">
<rect x="654.9" y="20.4" width="3" height="19.3"/>
<rect x="654.9" y="20.4" width="11.3" height="2.9"/>
<rect x="654.9" y="28.7" width="10.6" height="2.7"/>
<rect x="654.9" y="36.8" width="11.3" height="2.9"/>
<path d="M690.6,16.4 L696.3,17.2 L694.2,21.6 Z"/>
<rect x="697.7" y="20.4" width="3.7" height="19.3"/>
</g></svg></body></html>
